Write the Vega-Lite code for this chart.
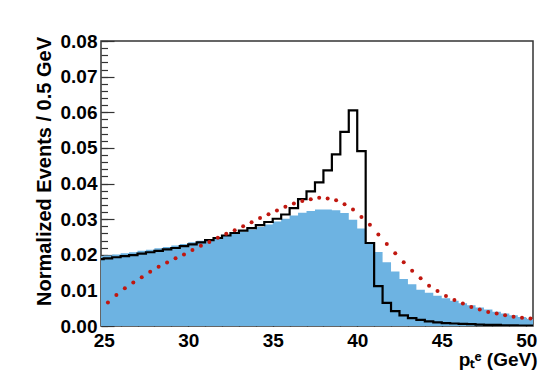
{
  "$schema": "https://vega.github.io/schema/vega-lite/v6.json",
  "width": 432,
  "height": 285,
  "autosize": {"type": "none"},
  "padding": {"left": 101, "top": 41, "right": 7, "bottom": 46},
  "background": "white",
  "config": {
    "view": {"stroke": "#333333", "strokeWidth": 1.5},
    "font": "Liberation Sans",
    "axis": {
      "domain": false,
      "grid": false,
      "labelFlush": false,
      "labelOverlap": false,
      "labelBound": false,
      "labelFont": "Liberation Sans",
      "labelFontWeight": "bold",
      "labelFontSize": 19,
      "labelColor": "black",
      "tickColor": "#333333",
      "tickWidth": 1.2,
      "titleFont": "Liberation Sans",
      "titleFontWeight": "bold",
      "titleColor": "black"
    }
  },
  "datasets": {
    "hist": [
      {"x": 24.5, "blue": 0.0196, "black": 0.0188},
      {"x": 25.0, "blue": 0.0198, "black": 0.0190},
      {"x": 25.5, "blue": 0.0201, "black": 0.0193},
      {"x": 26.0, "blue": 0.0204, "black": 0.0196},
      {"x": 26.5, "blue": 0.0207, "black": 0.0199},
      {"x": 27.0, "blue": 0.0211, "black": 0.0203},
      {"x": 27.5, "blue": 0.0214, "black": 0.0207},
      {"x": 28.0, "blue": 0.0218, "black": 0.0211},
      {"x": 28.5, "blue": 0.0222, "black": 0.0215},
      {"x": 29.0, "blue": 0.0226, "black": 0.0219},
      {"x": 29.5, "blue": 0.0230, "black": 0.0224},
      {"x": 30.0, "blue": 0.0235, "black": 0.0229},
      {"x": 30.5, "blue": 0.0239, "black": 0.0235},
      {"x": 31.0, "blue": 0.0244, "black": 0.0241},
      {"x": 31.5, "blue": 0.0249, "black": 0.0247},
      {"x": 32.0, "blue": 0.0254, "black": 0.0254},
      {"x": 32.5, "blue": 0.0259, "black": 0.0261},
      {"x": 33.0, "blue": 0.0265, "black": 0.0268},
      {"x": 33.5, "blue": 0.0271, "black": 0.0275},
      {"x": 34.0, "blue": 0.0278, "black": 0.0283},
      {"x": 34.5, "blue": 0.0285, "black": 0.0292},
      {"x": 35.0, "blue": 0.0293, "black": 0.0301},
      {"x": 35.5, "blue": 0.0301, "black": 0.0313},
      {"x": 36.0, "blue": 0.0310, "black": 0.0331},
      {"x": 36.5, "blue": 0.0318, "black": 0.0356},
      {"x": 37.0, "blue": 0.0323, "black": 0.0378},
      {"x": 37.5, "blue": 0.0327, "black": 0.0403},
      {"x": 38.0, "blue": 0.0327, "black": 0.0437},
      {"x": 38.5, "blue": 0.0325, "black": 0.0482},
      {"x": 39.0, "blue": 0.0317, "black": 0.0545},
      {"x": 39.5, "blue": 0.0298, "black": 0.0605},
      {"x": 40.0, "blue": 0.0274, "black": 0.0491},
      {"x": 40.5, "blue": 0.0232, "black": 0.0233},
      {"x": 41.0, "blue": 0.0208, "black": 0.0112},
      {"x": 41.5, "blue": 0.0179, "black": 0.0065},
      {"x": 42.0, "blue": 0.0153, "black": 0.0042},
      {"x": 42.5, "blue": 0.0132, "black": 0.0030},
      {"x": 43.0, "blue": 0.0117, "black": 0.0022},
      {"x": 43.5, "blue": 0.0102, "black": 0.0017},
      {"x": 44.0, "blue": 0.0093, "black": 0.0013},
      {"x": 44.5, "blue": 0.0085, "black": 0.0010},
      {"x": 45.0, "blue": 0.0078, "black": 0.0008},
      {"x": 45.5, "blue": 0.0071, "black": 0.0007},
      {"x": 46.0, "blue": 0.0064, "black": 0.0006},
      {"x": 46.5, "blue": 0.0058, "black": 0.0005},
      {"x": 47.0, "blue": 0.0052, "black": 0.0004},
      {"x": 47.5, "blue": 0.0046, "black": 0.0003},
      {"x": 48.0, "blue": 0.0040, "black": 0.0003},
      {"x": 48.5, "blue": 0.0035, "black": 0.0002},
      {"x": 49.0, "blue": 0.0030, "black": 0.0002},
      {"x": 49.5, "blue": 0.0025, "black": 0.0001},
      {"x": 50.0, "blue": 0.0020, "black": 0.0001},
      {"x": 50.5, "blue": 0.0020, "black": 0.0001}
    ],
    "pred": [
      {"x": 25.25, "y": 0.0066}, {"x": 25.75, "y": 0.0087}, {"x": 26.25, "y": 0.0106},
      {"x": 26.75, "y": 0.0122}, {"x": 27.25, "y": 0.0137}, {"x": 27.75, "y": 0.0152},
      {"x": 28.25, "y": 0.0166}, {"x": 28.75, "y": 0.0178}, {"x": 29.25, "y": 0.0190},
      {"x": 29.75, "y": 0.0201}, {"x": 30.25, "y": 0.0213}, {"x": 30.75, "y": 0.0225},
      {"x": 31.25, "y": 0.0236}, {"x": 31.75, "y": 0.0248}, {"x": 32.25, "y": 0.0259},
      {"x": 32.75, "y": 0.0269}, {"x": 33.25, "y": 0.0280}, {"x": 33.75, "y": 0.0291},
      {"x": 34.25, "y": 0.0303}, {"x": 34.75, "y": 0.0314}, {"x": 35.25, "y": 0.0324},
      {"x": 35.75, "y": 0.0335}, {"x": 36.25, "y": 0.0344}, {"x": 36.75, "y": 0.0351},
      {"x": 37.25, "y": 0.0356}, {"x": 37.75, "y": 0.0360}, {"x": 38.25, "y": 0.0358},
      {"x": 38.75, "y": 0.0353}, {"x": 39.25, "y": 0.0342}, {"x": 39.75, "y": 0.0327},
      {"x": 40.25, "y": 0.0306}, {"x": 40.75, "y": 0.0284}, {"x": 41.25, "y": 0.0257},
      {"x": 41.75, "y": 0.0230}, {"x": 42.25, "y": 0.0204}, {"x": 42.75, "y": 0.0179},
      {"x": 43.25, "y": 0.0155}, {"x": 43.75, "y": 0.0134}, {"x": 44.25, "y": 0.0113},
      {"x": 44.75, "y": 0.0098}, {"x": 45.25, "y": 0.0084}, {"x": 45.75, "y": 0.0073},
      {"x": 46.25, "y": 0.0063}, {"x": 46.75, "y": 0.0053}, {"x": 47.25, "y": 0.0046},
      {"x": 47.75, "y": 0.0039}, {"x": 48.25, "y": 0.0035}, {"x": 48.75, "y": 0.0030},
      {"x": 49.25, "y": 0.0026}, {"x": 49.75, "y": 0.0023}, {"x": 50.25, "y": 0.0021}
    ]
  },
  "resolve": {"axis": {"x": "independent", "y": "independent"}},
  "layer": [
    {
      "data": {"name": "hist"},
      "mark": {"type": "area", "interpolate": "step-after", "color": "#6db3e2", "clip": true},
      "encoding": {
        "x": {
          "field": "x", "type": "quantitative",
          "scale": {"domain": [24.84, 50.4], "nice": false, "zero": false},
          "axis": {
            "orient": "bottom", "values": [25, 30, 35, 40, 45, 50], "ticks": false,
            "labelPadding": 5, "title": "pₜᵉ (GeV)", "titleFontSize": 19,
            "titleX": 436, "titleY": 39, "titleAlign": "right", "titleBaseline": "alphabetic"
          }
        },
        "y": {
          "field": "blue", "type": "quantitative",
          "scale": {"domain": [0, 0.08], "nice": false, "zero": true},
          "axis": {
            "orient": "left", "values": [0, 0.01, 0.02, 0.03, 0.04, 0.05, 0.06, 0.07, 0.08],
            "format": ".2f", "ticks": false, "labelPadding": 4,
            "title": "Normalized Events / 0.5 GeV", "titleFontSize": 20,
            "titleAngle": 270, "titleAlign": "center", "titleBaseline": "alphabetic",
            "titleX": -51, "titleY": 130
          }
        }
      }
    },
    {
      "data": {"name": "hist"},
      "mark": {"type": "line", "interpolate": "step-after", "color": "black", "strokeWidth": 2.2, "clip": true},
      "encoding": {
        "x": {
          "field": "x", "type": "quantitative",
          "axis": {"orient": "bottom", "values": [25, 30, 35, 40, 45, 50], "labels": false, "tickSize": -8, "title": null}
        },
        "y": {
          "field": "black", "type": "quantitative",
          "axis": {"orient": "left", "values": [0, 0.01, 0.02, 0.03, 0.04, 0.05, 0.06, 0.07, 0.08], "labels": false, "tickSize": -13, "title": null}
        }
      }
    },
    {
      "data": {"name": "pred"},
      "mark": {"type": "circle", "color": "#c0170f", "size": 16, "opacity": 1, "clip": true},
      "encoding": {
        "x": {
          "field": "x", "type": "quantitative",
          "axis": {"orient": "bottom", "values": [25, 26, 27, 28, 29, 30, 31, 32, 33, 34, 35, 36, 37, 38, 39, 40, 41, 42, 43, 44, 45, 46, 47, 48, 49, 50], "labels": false, "tickSize": -4, "title": null}
        },
        "y": {
          "field": "y", "type": "quantitative",
          "axis": {"orient": "left", "values": [0, 0.002, 0.004, 0.006, 0.008, 0.01, 0.012, 0.014, 0.016, 0.018, 0.02, 0.022, 0.024, 0.026, 0.028, 0.03, 0.032, 0.034, 0.036, 0.038, 0.04, 0.042, 0.044, 0.046, 0.048, 0.05, 0.052, 0.054, 0.056, 0.058, 0.06, 0.062, 0.064, 0.066, 0.068, 0.07, 0.072, 0.074, 0.076, 0.078, 0.08], "labels": false, "tickSize": -6.5, "title": null}
        }
      }
    },
    {
      "mark": {"type": "text", "text": "(a)", "font": "Liberation Sans", "fontWeight": "bold", "fontSize": 20, "color": "black", "align": "center", "baseline": "middle"},
      "encoding": {
        "x": {"datum": 28.18, "type": "quantitative", "axis": null},
        "y": {"datum": 0.0714, "type": "quantitative", "axis": null}
      }
    },
    {
      "mark": {"type": "text", "text": "D0", "font": "Liberation Sans", "fontWeight": "bold", "fontSize": 20, "color": "black", "align": "center", "baseline": "middle"},
      "encoding": {
        "x": {"datum": 46.2, "type": "quantitative", "axis": null},
        "y": {"datum": 0.0714, "type": "quantitative", "axis": null}
      }
    }
  ]
}
